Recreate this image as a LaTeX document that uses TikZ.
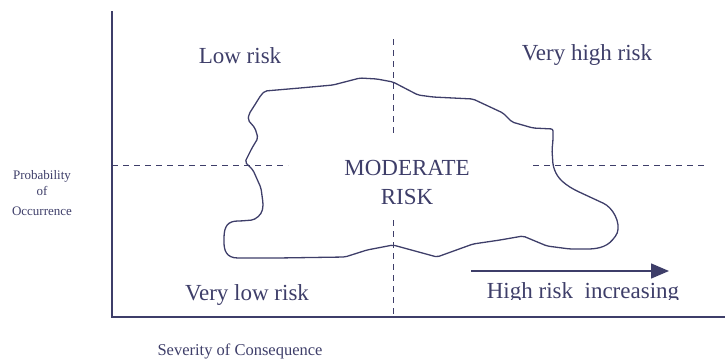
\documentclass[tikz,border=0pt]{standalone}
\usepackage{fontspec}
\setmainfont{Liberation Serif}
\usetikzlibrary{arrows.meta}
\definecolor{ink}{RGB}{62,62,105}
\tikzset{
  lbl/.style={text=ink, inner sep=0pt, anchor=base, font=\fontsize{23}{27}\selectfont},
  small/.style={text=ink, inner sep=0pt, anchor=base, font=\fontsize{13}{15}\selectfont},
  axis/.style={draw=ink, line width=1.6pt},
  divider/.style={draw=ink, line width=1pt, dash pattern=on 6pt off 5pt},
  blob/.style={draw=ink, line width=1.3pt, rounded corners=2pt},
}
\begin{document}
\begin{tikzpicture}[x=1pt,y=-1pt]
\useasboundingbox (0,0) rectangle (725,360);
% axes
\coordinate (ytop) at (112,11);
\coordinate (orig) at (112,317);
\coordinate (xend) at (725,317);
\draw[axis] (ytop) -- (orig) -- (xend);
% dividers
\coordinate (v1a) at (393,39); \coordinate (v1b) at (393,135);
\coordinate (v2a) at (393,220); \coordinate (v2b) at (393,317);
\coordinate (h1a) at (112,165); \coordinate (h1b) at (288,165);
\coordinate (h2a) at (533,165); \coordinate (h2b) at (708,165);
\draw[divider] (v1a) -- (v1b);
\draw[divider] (v2a) -- (v2b);
\draw[divider] (h1a) -- (h1b);
\draw[divider] (h2a) -- (h2b);
% blob
\draw[blob] (265,91) -- (300,88) -- (333,85) -- (360,78) -- (377,79) -- (393,82)
  -- (418,95) -- (433,97) -- (473,99) -- (503,113) -- (512,122) -- (533,128)
  -- (553,129) -- (553,140) -- (552,150) -- (553,165)
  .. controls (556,175) and (560,182) .. (577,191)
  -- (605,204) .. controls (616,212) and (622,228) .. (614,238)
  .. controls (606,248) and (595,249) .. (585,249)
  -- (570,249) -- (547,246) -- (523,236) -- (500,240) -- (473,244) -- (437,257)
  -- (393,245) -- (367,250) -- (345,257) -- (277,258) -- (240,258)
  .. controls (226,258) and (224,250) .. (224,240)
  .. controls (224,226) and (228,221) .. (240,221)
  -- (253,220) .. controls (260,216) and (263,212) .. (263,203)
  -- (261,188) -- (253,170) -- (245,162) -- (252,148) -- (258,138) -- (255,128)
  -- (248,120) -- (249,114) -- (256,103) -- (261,95) -- cycle;
% labels
\node[lbl] (low) at (240,63) {Low risk};
\node[lbl] (vhigh) at (587,60) {Very high risk};
\node[lbl] (mod1) at (407,175) {MODERATE};
\node[lbl] (mod2) at (407,204) {RISK};
\node[lbl] (vlow) at (247,300) {Very low risk};
\begin{scope}
  \clip (450,270) rectangle (700,299);
  \node[lbl] (high) at (583,298) {High risk\ \ increasing};
\end{scope}
% arrow
\coordinate (aS) at (471,271);
\coordinate (aE) at (669,271);
\draw[draw=ink, line width=1.4pt, -{Triangle[length=18pt,width=15pt]}] (aS) -- (aE);
% axis titles
\node[small] (p1) at (42,179) {Probability};
\node[small] (p2) at (42,195) {of};
\node[small] (p3) at (42,215) {Occurrence};
\node[lbl, font=\fontsize{16.5}{18}\selectfont] (sev) at (240,355) {Severity of Consequence};
\end{tikzpicture}
\end{document}
